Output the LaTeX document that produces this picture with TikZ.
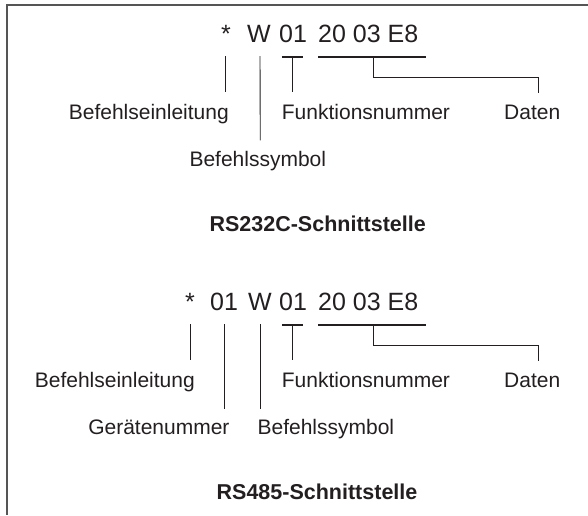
\documentclass[tikz,border=0pt]{standalone}
\usepackage{fontspec}
\setmainfont{Liberation Sans}
\usepackage{tikz}
\usetikzlibrary{calc}
\definecolor{ink}{RGB}{35,31,32}
\definecolor{rule}{RGB}{85,85,85}

\begin{document}
\begin{tikzpicture}[x=1pt,y=-1pt,
  every node/.style={inner sep=0pt,text=ink},
  codetxt/.style={font=\fontsize{25}{30}\selectfont,anchor=base},
  desc/.style={font=\fontsize{21}{25}\selectfont},
  heading/.style={font=\fontsize{21.5}{25}\selectfont\bfseries,anchor=base},
  link/.style={draw=ink,line width=0.9pt},
  bar/.style={draw=ink,line width=2.6pt}]
\useasboundingbox (0,0) rectangle (588,515);
\draw[rule,line width=1.5pt] (588,5) -- (7,5) -- (7,515);

% RS232C
\node[codetxt] (star1) at (226,42) {*};
\node[codetxt] (cmd1) at (259,42) {W};
\node[codetxt] (fn1) at (293,42) {01};
\node[codetxt,anchor=base west] (data1) at (318,42) {20 03 E8};
\node[desc,anchor=base east] (einl1) at (229,119) {Befehlseinleitung};
\node[desc,anchor=base west] (funk1) at (281.7,119) {Funktionsnummer};
\node[desc,anchor=base west] (daten1) at (504,119) {Daten};
\node[desc,anchor=base west] (sym1) at (189.3,166.7) {Befehlssymbol};
\node[heading] (title1) at (317.7,231.7) {RS232C-Schnittstelle};
\draw[link] ($(star1.south)+(-1,14)$) -- ($(star1.south)+(-1,50)$);
\draw[link] ($(cmd1.south)+(1,14)$) -- ($(sym1.north)+(2.5,-11)$);
\draw[bar] ($(fn1.south west)+(3,14.7)$) -- ($(fn1.south east)+(-4,14.7)$);
\draw[link] ($(fn1.south)+(-1,14.7)$) -- ($(fn1.south)+(-1,50)$);
\draw[bar] ($(data1.south west)+(0,14.7)$) -- ($(data1.south east)+(8,14.7)$);
\draw[link] ($(data1.south)+(5,14.7)$) -- ++(0,20) -| ($(daten1.north)+(6,-11)$);

% RS485
\node[codetxt] (star2) at (190,310) {*};
\node[codetxt] (dev2) at (224,310) {01};
\node[codetxt] (cmd2) at (260,310) {W};
\node[codetxt] (fn2) at (293,310) {01};
\node[codetxt,anchor=base west] (data2) at (318,310) {20 03 E8};
\node[desc,anchor=base east] (einl2) at (195,387) {Befehlseinleitung};
\node[desc,anchor=base west] (funk2) at (281.7,387) {Funktionsnummer};
\node[desc,anchor=base west] (daten2) at (504,387) {Daten};
\node[desc,anchor=base east] (geraet2) at (229.7,434.7) {Gerätenummer};
\node[desc,anchor=base west] (sym2) at (257.4,434.7) {Befehlssymbol};
\node[heading] (title2) at (317,499.7) {RS485-Schnittstelle};
\draw[link] ($(star2.south)+(0,14)$) -- ($(star2.south)+(0,50)$);
\draw[link] ($(dev2.south)+(0,14)$) -- ($(dev2.south)+(0,98.7)$);
\draw[link] ($(cmd2.south)+(0,14)$) -- ($(cmd2.south)+(0,98.7)$);
\draw[bar] ($(fn2.south west)+(3,14.7)$) -- ($(fn2.south east)+(-4,14.7)$);
\draw[link] ($(fn2.south)+(-1,14.7)$) -- ($(fn2.south)+(-1,50)$);
\draw[bar] ($(data2.south west)+(0,14.7)$) -- ($(data2.south east)+(8,14.7)$);
\draw[link] ($(data2.south)+(5,14.7)$) -- ++(0,20) -| ($(daten2.north)+(6,-11)$);
\end{tikzpicture}
\end{document}
